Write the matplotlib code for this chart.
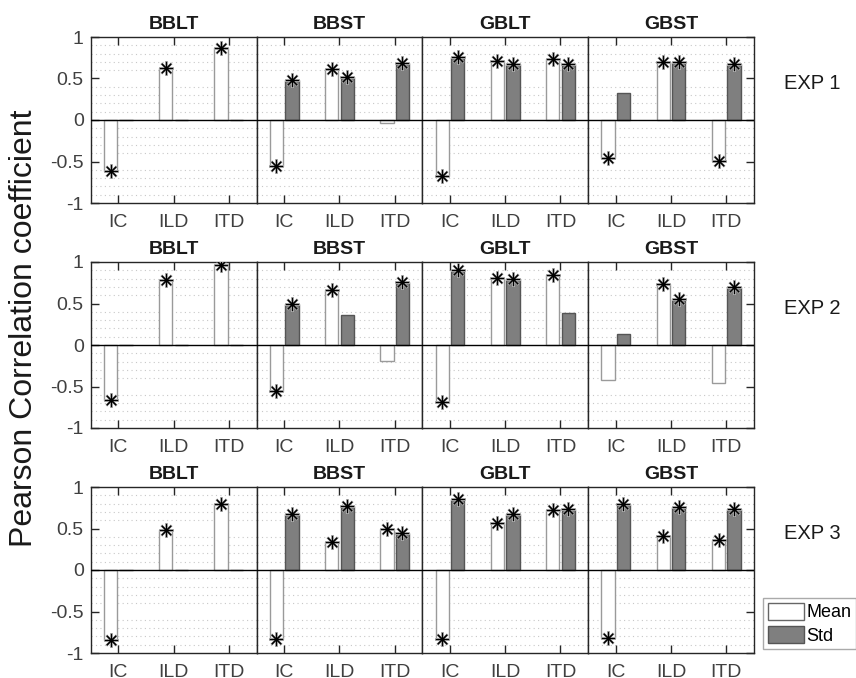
import numpy as np
import matplotlib
matplotlib.use("Agg")
import matplotlib.pyplot as plt
from matplotlib.patches import Patch

plt.rcParams["font.family"] = ["Liberation Sans", "DejaVu Sans"]

# data
cues = ["IC", "ILD", "ITD"]
stimuli = ["BBLT", "BBST", "GBLT", "GBST"]
exps = ["EXP 1", "EXP 2", "EXP 3"]

mean_exp1 = [[-0.61, 0.63, 0.87], [-0.55, 0.62, -0.04], [-0.67, 0.71, 0.74], [-0.46, 0.70, -0.49]]
std_exp1 = [[0, 0, 0], [0.48, 0.52, 0.69], [0.76, 0.67, 0.67], [0.32, 0.70, 0.68]]
mean_exp2 = [[-0.66, 0.78, 0.96], [-0.55, 0.66, -0.19], [-0.69, 0.81, 0.84], [-0.42, 0.73, -0.46]]
std_exp2 = [[0, 0, 0], [0.49, 0.36, 0.76], [0.90, 0.79, 0.38], [0.13, 0.55, 0.70]]
mean_exp3 = [[-0.84, 0.48, 0.80], [-0.83, 0.34, 0.49], [-0.83, 0.57, 0.72], [-0.82, 0.41, 0.36]]
std_exp3 = [[0, 0, 0], [0.67, 0.77, 0.44], [0.86, 0.67, 0.73], [0.79, 0.76, 0.73]]

# 1 = significant (asterisk drawn)
sig_mean_exp1 = [[1, 1, 1], [1, 1, 0], [1, 1, 1], [1, 1, 1]]
sig_std_exp1 = [[0, 0, 0], [1, 1, 1], [1, 1, 1], [0, 1, 1]]
sig_mean_exp2 = [[1, 1, 1], [1, 1, 0], [1, 1, 1], [0, 1, 0]]
sig_std_exp2 = [[0, 0, 0], [1, 0, 1], [1, 1, 0], [0, 1, 1]]
sig_mean_exp3 = [[1, 1, 1], [1, 1, 1], [1, 1, 1], [1, 1, 1]]
sig_std_exp3 = [[0, 0, 0], [1, 1, 1], [1, 1, 1], [1, 1, 1]]

means = [mean_exp1, mean_exp2, mean_exp3]
stds = [std_exp1, std_exp2, std_exp3]
sig_means = [sig_mean_exp1, sig_mean_exp2, sig_mean_exp3]
sig_stds = [sig_std_exp1, sig_std_exp2, sig_std_exp3]

W, H = 856, 678
fig = plt.figure(figsize=(W / 100, H / 100), dpi=100)

col_left = [90.7, 256.5, 422.3, 588.1]
pw = 165.8
row_top = [37, 262, 487]
ph = 166

x = np.arange(1, 4)
off = 0.14
bw = 0.24
mean_face, mean_edge = "white", "#9a9a9a"
std_face, std_edge = "#7f7f7f", "#555555"
tick_col = "#404040"
star = (8, 2, 0)


def draw_star(ax, xs, ys):
    ax.plot(xs, ys, marker=star, ms=10.5, mew=1.6, color="#b0b0b0", zorder=4)
    ax.plot(xs, ys, marker=star, ms=9.5, mew=0.8, color="black", zorder=5)


for r in range(3):
    for c in range(4):
        ax = fig.add_axes([col_left[c] / W, 1 - (row_top[r] + ph) / H, pw / W, ph / H])
        m = np.array(means[r][c])
        s = np.array(stds[r][c])
        ax.bar(x - off, m, bw, color=mean_face, edgecolor=mean_edge, linewidth=1, zorder=3)
        ax.bar(x + off, s, bw, color=std_face, edgecolor=std_edge, linewidth=1, zorder=3)
        for i in range(3):
            if sig_means[r][c][i]:
                draw_star(ax, x[i] - off, m[i])
            if sig_stds[r][c][i]:
                draw_star(ax, x[i] + off, s[i])
        ax.axhline(0, color="black", lw=1, zorder=4)
        # dotted minor grid every 0.1
        for g in np.arange(-9, 10):
            if g % 5 != 0:
                ax.axhline(g / 10, color="#c8c8c8", lw=0.8, ls=(0, (1, 3)), zorder=1)
        ax.set_xlim(0.5, 3.5)
        ax.set_ylim(-1, 1)
        ax.set_xticks(x)
        ax.set_xticklabels(cues)
        ax.set_yticks([-1, -0.5, 0, 0.5, 1])
        ax.set_yticklabels(["-1", "-0.5", "0", "0.5", "1"])
        ax.tick_params(axis="x", direction="in", top=True, length=6, width=1,
                       colors="#262626", labelcolor=tick_col, labelsize=14, pad=8)
        ax.tick_params(axis="y", direction="in", length=6, width=1, colors="#262626",
                       labelcolor=tick_col, labelsize=14, pad=5,
                       left=(c == 0), labelleft=(c == 0), right=(c == 3))
        for sp in ax.spines.values():
            sp.set_color("#262626")
            sp.set_linewidth(1)
        ax.set_title(stimuli[c], fontsize=14, fontweight="bold", pad=6, color="#1a1a1a")
        if c == 3:
            ax.text(1.35, 0.72, exps[r], transform=ax.transAxes, fontsize=14.5,
                    ha="center", va="center", color="#1a1a1a")

fig.text(24 / W, 1 - 328 / H, "Pearson Correlation coefficient", rotation=90,
         fontsize=23, ha="center", va="center", color="#1a1a1a")

handles = [Patch(facecolor=mean_face, edgecolor="#666666"),
           Patch(facecolor=std_face, edgecolor="#555555")]
fig.legend(handles, ["Mean", "Std"], loc="upper left",
           bbox_to_anchor=(763 / W, 1 - 598 / H), fontsize=13,
           handlelength=2.0, handleheight=1.1, handletextpad=0.15,
           labelspacing=0.25, borderpad=0.25, borderaxespad=0,
           fancybox=False, framealpha=1, edgecolor="#aaaaaa")

fig.savefig("out.png", dpi=100)
